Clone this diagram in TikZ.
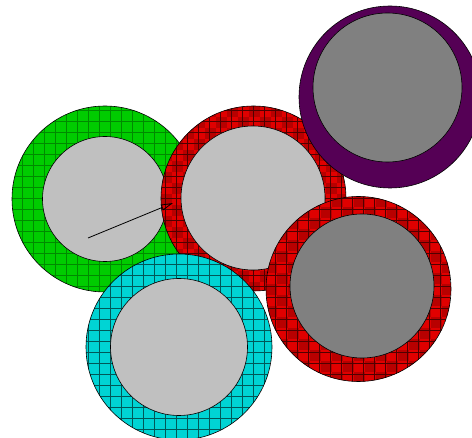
\documentclass[tikz,border=0pt]{standalone}
\usetikzlibrary{arrows.meta}
\definecolor{grn}{HTML}{00CC00}
\definecolor{grnl}{HTML}{008A00}
\definecolor{rd}{HTML}{E00000}
\definecolor{rdd}{HTML}{B80000}
\definecolor{rdl}{HTML}{500000}
\definecolor{cyn}{HTML}{00D4D4}
\definecolor{cynl}{HTML}{005858}
\definecolor{prp}{HTML}{550055}
\definecolor{lgray}{HTML}{C0C0C0}
\definecolor{dgray}{HTML}{808080}
\newcommand\ringfill[6]{% cx cy R fill linecolor checker(0/1)
  \begin{scope}
    \clip (#1,#2) circle[radius=#3pt];
    \fill[#4] (#1,#2) circle[radius=#3pt];
    \ifnum#6=1
      \foreach \i in {0,...,18}{\foreach \j in {0,...,18}{
        \pgfmathtruncatemacro\myparity{mod(\i+\j,2)}
        \ifnum\myparity=0
          \fill[rdd] (#1-#3-11+\i*11, #2-#3-11+\j*11) rectangle ++(11,11);
        \fi}}
    \fi
    \draw[#5, line width=0.6pt, step=11pt] (#1-#3-11,#2-#3-11) grid (#1+#3+11,#2+#3+11);
  \end{scope}
  \draw[black, line width=0.6pt] (#1,#2) circle[radius=#3pt];
}
\begin{document}
\begin{tikzpicture}[x=1pt,y=-1pt,
  core/.style={draw=black, line width=0.6pt, circle, inner sep=0pt}]
\useasboundingbox (0,0) rectangle (472,438);
% green
\ringfill{105}{199}{93}{grn}{grnl}{0}
\node[core, fill=lgray, minimum size=125pt] (g) at (105,199) {};
% red middle
\ringfill{253.5}{198.5}{92.5}{rd}{rdl}{1}
\node[core, fill=lgray, minimum size=144pt] (rm) at (253,198) {};
% purple
\node[core, fill=prp, minimum size=182pt] (po) at (390,97) {};
\node[core, fill=dgray, minimum size=149pt] (p) at (387.5,87.5) {};
% cyan
\ringfill{179}{347}{93}{cyn}{cynl}{0}
\node[core, fill=lgray, minimum size=137pt] (c) at (179,347) {};
% red right
\ringfill{358.5}{289}{92.5}{rd}{rdl}{1}
\node[core, fill=dgray, minimum size=144pt] (rr) at (362,286) {};
% arrow
\coordinate (a1) at (88,238);
\coordinate (a2) at (173,203);
\draw[line width=0.8pt, -{Triangle[open,length=12pt,width=6pt]}] (a1) -- (a2);
\end{tikzpicture}
\end{document}
